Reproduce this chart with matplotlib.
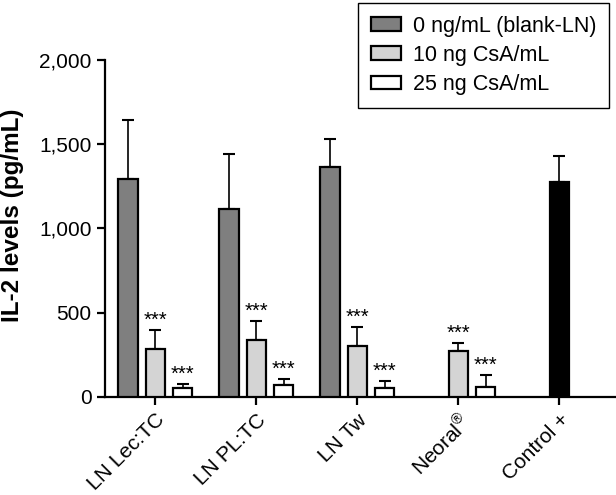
import numpy as np
import matplotlib
matplotlib.use("Agg")
import matplotlib.pyplot as plt

plt.rcParams['font.family'] = ['Liberation Sans', 'DejaVu Sans']
plt.rcParams['mathtext.fontset'] = 'custom'
plt.rcParams['mathtext.rm'] = 'Liberation Sans'

# data
groups = ["LN Lec:TC", "LN PL:TC", "LN Tw", "Neoral$^{®}$", "Control +"]
blank = [1294, 1116, 1363, None, None]
blank_err = [350, 328, 168, None, None]
csa10 = [287, 340, 305, 275, None]
csa10_err = [109, 113, 112, 44, None]
csa25 = [55, 69, 55, 59, None]
csa25_err = [24, 36, 40, 70, None]
control = [None, None, None, None, 1274]
control_err = [None, None, None, None, 158]

series = [
    ("0 ng/mL (blank-LN)", blank, blank_err, "#7f7f7f", -0.27, False),
    ("10 ng CsA/mL", csa10, csa10_err, "#d4d4d4", 0.0, True),
    ("25 ng CsA/mL", csa25, csa25_err, "white", 0.27, True),
    (None, control, control_err, "black", 0.0, False),
]

fig = plt.figure(figsize=(6.16, 4.95), dpi=100)
ax = fig.add_axes([0.170, 0.198, 0.83, 0.681])

x = np.arange(len(groups))
width = 0.19
handles = []
for label, vals, errs, color, off, stars in series:
    idx = [i for i, v in enumerate(vals) if v is not None]
    xs = x[idx] + off
    hs = [vals[i] for i in idx]
    es = [errs[i] for i in idx]
    b = ax.bar(xs, hs, width, color=color, edgecolor="black", linewidth=1.6,
               zorder=3, label=label)
    ax.errorbar(xs, hs, yerr=[np.zeros(len(es)), es], fmt="none",
                ecolor="black", elinewidth=1.2, capsize=4, capthick=1.5,
                zorder=2)
    if label is not None:
        handles.append(b)
    if stars:
        for xi, h, e in zip(xs, hs, es):
            ax.annotate("***", (xi, h + e), xytext=(0, 0),
                        textcoords="offset points", ha="center", va="bottom",
                        fontsize=14.5)

ax.set_xlim(-0.5, 4.56)
ax.set_ylim(0, 2000)
ax.set_yticks([0, 500, 1000, 1500, 2000])
ax.set_yticklabels(["0", "500", "1,000", "1,500", "2,000"], fontsize=15)
ax.set_xticks(x)
ax.set_xticklabels(groups, rotation=45, ha="right", rotation_mode="anchor",
                   fontsize=15)
ax.set_ylabel("IL-2 levels (pg/mL)", fontsize=17.5, fontweight="bold")
ax.yaxis.set_label_coords(-0.157, 0.54)

for s in ["top", "right"]:
    ax.spines[s].set_visible(False)
for s in ["left", "bottom"]:
    ax.spines[s].set_linewidth(1.6)
ax.tick_params(axis="both", length=6, width=1.6, direction="out")

leg = fig.legend(handles=handles, loc="upper right",
                 bbox_to_anchor=(0.992, 0.999), fontsize=15.5, frameon=True,
                 fancybox=False, edgecolor="black", framealpha=1,
                 handlelength=1.4, handleheight=0.6, handletextpad=0.55,
                 borderpad=0.6, labelspacing=0.38, borderaxespad=0.1)
leg.get_frame().set_linewidth(1.0)

fig.savefig("out.png", dpi=100)
